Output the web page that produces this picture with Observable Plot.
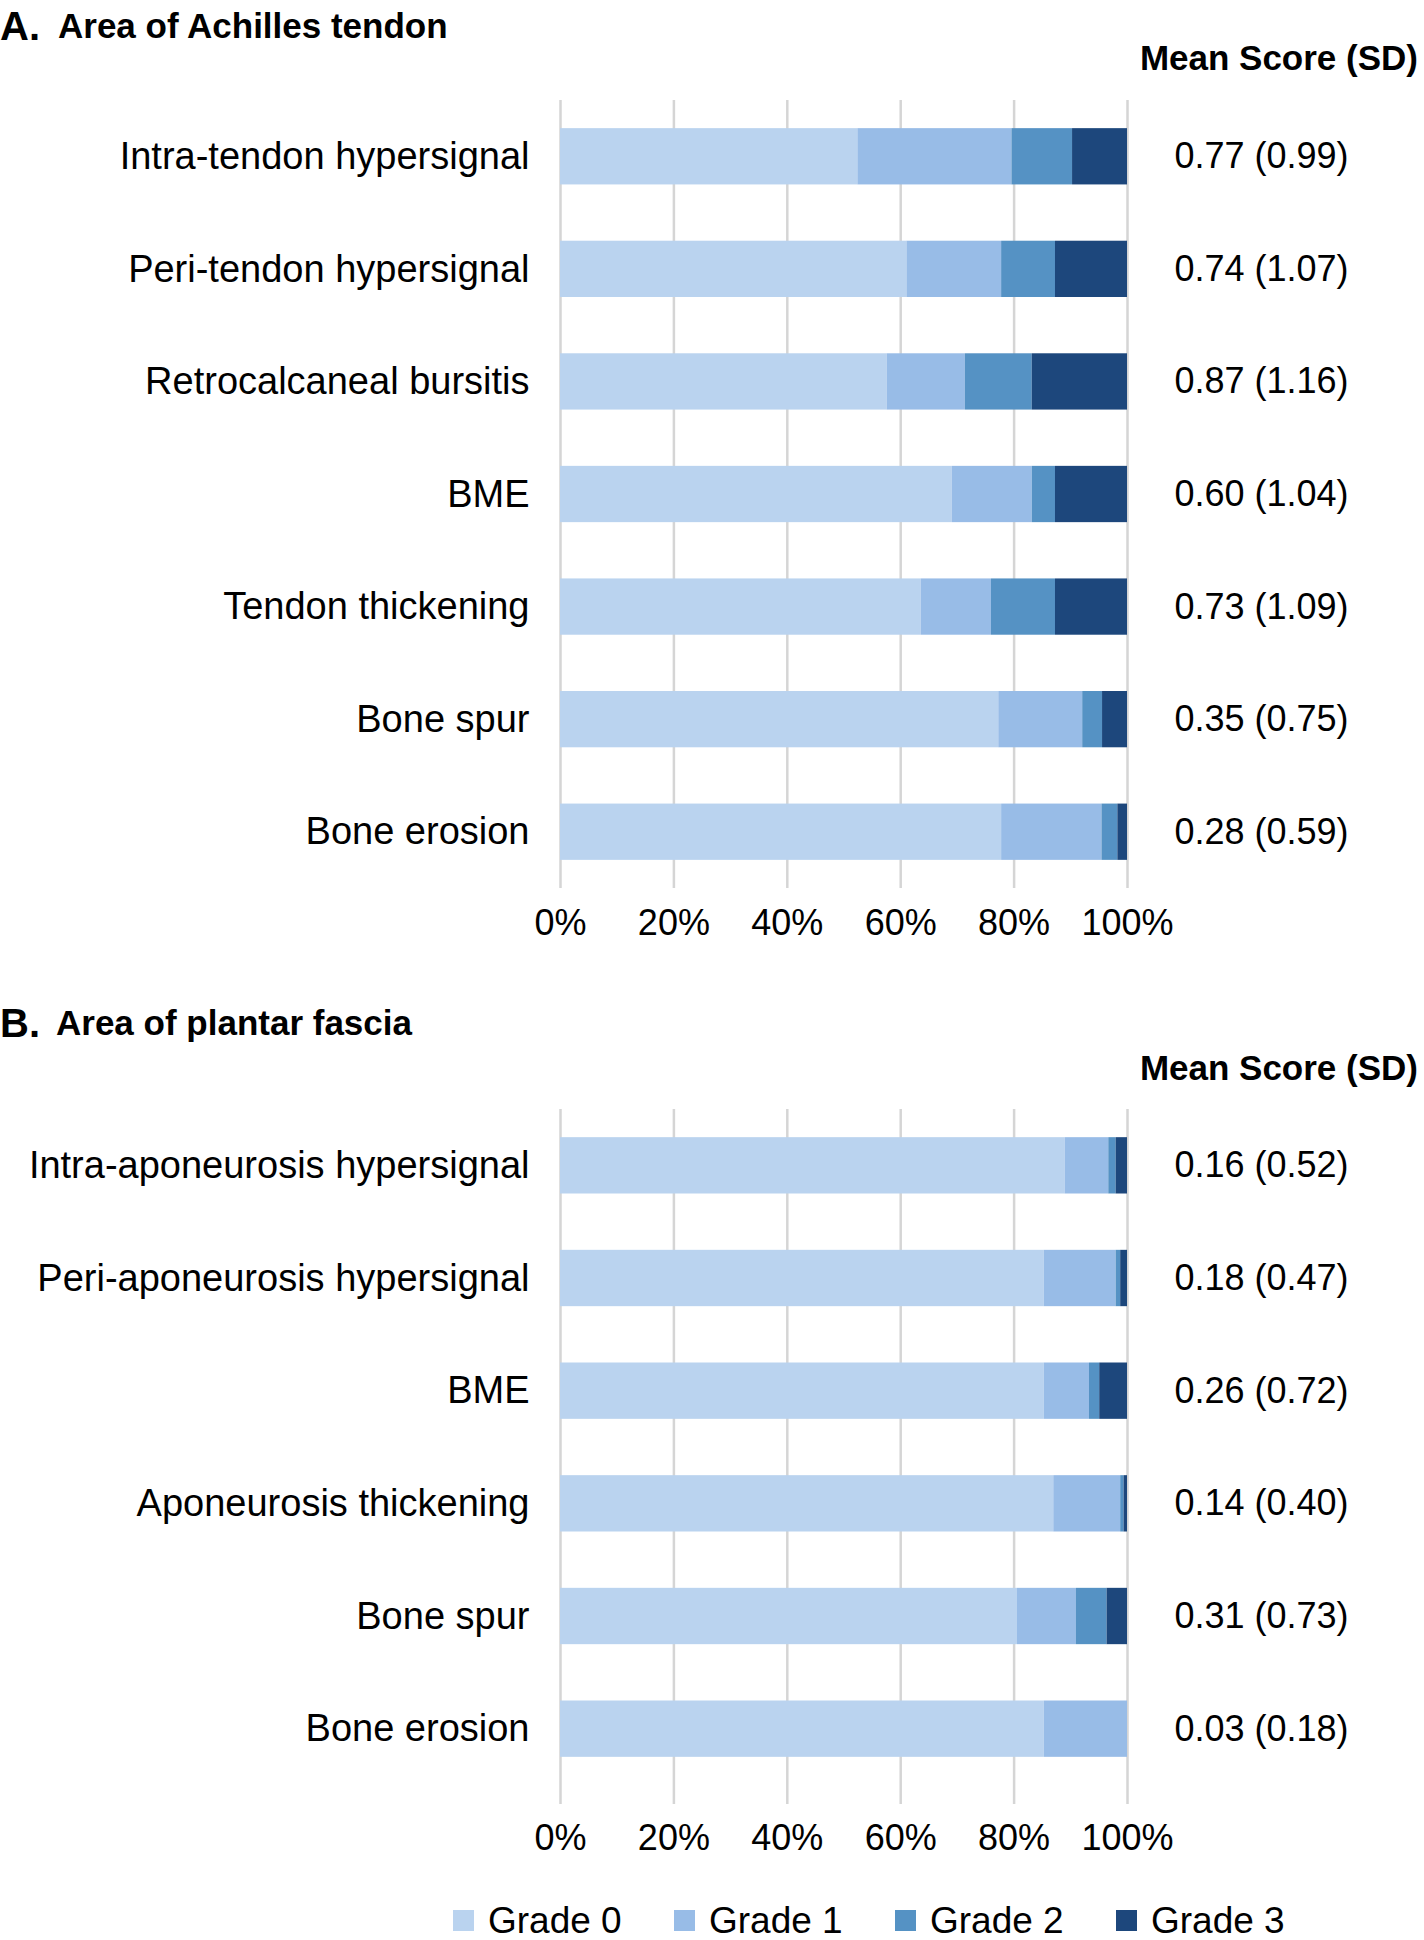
<!DOCTYPE html>
<html>
<head>
<meta charset="utf-8">
<script src="https://cdn.jsdelivr.net/npm/d3@7"></script>
<script src="https://cdn.jsdelivr.net/npm/@observablehq/plot@0.6"></script>
<style>
  html, body { margin: 0; padding: 0; background: #fff; }
  #root { position: relative; width: 1424px; height: 1940px; overflow: hidden; background: #fff;
          font-family: "Liberation Sans", Arial, Helvetica, sans-serif; color: #000; }
  .abs { position: absolute; white-space: nowrap; }
  .letter { font-size: 40px; font-weight: bold; line-height: 1; }
  .title { font-size: 35px; font-weight: bold; line-height: 1; }
  .header { font-size: 35px; font-weight: bold; line-height: 40px; right: 6px; }
  .legend { display: flex; align-items: center; height: 33px; }
  .legend-item { display: flex; align-items: center; width: 221px; font-size: 37px; line-height: 33px; height: 33px; }
  .legend-item .sw { width: 21px; height: 21px; margin-right: 14px; flex: none; }
  .legend-item .lt { display: inline-block; height: 33px; line-height: 33px; overflow: visible; }
</style>
</head>
<body>
<div id="root"></div>
<script>
// ---------- data ----------
const grades = ["Grade 0", "Grade 1", "Grade 2", "Grade 3"];
const gradeColors = ["#bad3ef", "#98bce7", "#5592c4", "#1d477c"];
const xTicks = [0, 0.2, 0.4, 0.6, 0.8, 1];

// Panel A: Area of Achilles tendon (percent of patients per grade)
const itemsA = ["Intra-tendon hypersignal", "Peri-tendon hypersignal", "Retrocalcaneal bursitis", "BME", "Tendon thickening", "Bone spur", "Bone erosion"];
const grade0A = [52.5, 61.1, 57.6, 69.1, 63.6, 77.3, 77.8];
const grade1A = [27.2, 16.7, 13.8, 14.1, 12.4, 14.8, 17.7];
const grade2A = [10.7, 9.5, 11.8, 4.1, 11.3, 3.5, 2.8];
const grade3A = [9.7, 12.7, 16.8, 12.7, 12.7, 4.4, 1.7];
const meanA = [0.77, 0.74, 0.87, 0.60, 0.73, 0.35, 0.28];
const sdA = [0.99, 1.07, 1.16, 1.04, 1.09, 0.75, 0.59];

// Panel B: Area of plantar fascia
const itemsB = ["Intra-aponeurosis hypersignal", "Peri-aponeurosis hypersignal", "BME", "Aponeurosis thickening", "Bone spur", "Bone erosion"];
const grade0B = [89.0, 85.3, 85.3, 87.0, 80.6, 85.3];
const grade1B = [7.7, 12.7, 8.0, 11.8, 10.4, 14.7];
const grade2B = [1.3, 0.8, 1.8, 0.6, 5.4, 0];
const grade3B = [2.0, 1.2, 4.9, 0.6, 3.6, 0];
const meanB = [0.16, 0.18, 0.26, 0.14, 0.31, 0.03];
const sdB = [0.52, 0.47, 0.72, 0.40, 0.73, 0.18];

// ---------- helpers ----------
function buildRows(items, series) {
  const rows = [];
  items.forEach((item, i) => {
    series.forEach((s, g) => rows.push({item, grade: grades[g], value: s[i]}));
  });
  return rows;
}
function buildMeans(items, mean, sd) {
  return items.map((item, i) => ({item, label: `${mean[i].toFixed(2)} (${sd[i].toFixed(2)})`}));
}

const FONT = '"Liberation Sans", Arial, Helvetica, sans-serif';

function panel(items, rows, means, opts) {
  return Plot.plot({
    width: 1424,
    height: opts.height,
    marginTop: opts.marginTop,
    marginBottom: opts.marginBottom,
    marginLeft: 560,
    marginRight: 297,
    x: {domain: [0, 1]},
    y: {domain: items, paddingInner: 0.5, paddingOuter: 0.25, round: false, insetBottom: opts.insetBottom || 0},
    color: {domain: grades, range: gradeColors},
    style: {fontFamily: FONT, fontSize: "36px", color: "#000", background: "transparent", overflow: "visible"},
    marks: [
      Plot.gridX({ticks: xTicks, stroke: "#d5d5d5", strokeOpacity: 1, strokeWidth: 2.5}),
      Plot.barX(rows, Plot.stackX({x: "value", y: "item", fill: "grade", offset: "normalize"})),
      Plot.axisX({ticks: xTicks, tickFormat: d3.format(".0%"), tickSize: 0, tickPadding: opts.xPad, fontSize: 36, label: null}),
      Plot.axisY({tickSize: 0, tickPadding: 31, fontSize: 38, label: null}),
      Plot.text(means, {y: "item", text: "label", frameAnchor: "right", dx: 134, textAnchor: "middle", fontSize: 36, fill: "#000"})
    ]
  });
}

const root = document.getElementById("root");
function addDiv(cls, text, style) {
  const d = document.createElement("div");
  d.className = "abs " + cls;
  d.textContent = text;
  Object.assign(d.style, style);
  root.appendChild(d);
  return d;
}

// ---------- Panel A ----------
addDiv("letter", "A.", {left: "0px", top: "6px"});
addDiv("title", "Area of Achilles tendon", {left: "58px", top: "8px"});
addDiv("header", "Mean Score (SD)", {top: "38px"});
const plotA = panel(itemsA, buildRows(itemsA, [grade0A, grade1A, grade2A, grade3A]), buildMeans(itemsA, meanA, sdA),
  {height: 881, marginTop: 33, marginBottom: 60, xPad: 21});
const wrapA = document.createElement("div");
wrapA.className = "abs"; wrapA.style.left = "0px"; wrapA.style.top = "67px";
wrapA.appendChild(plotA); root.appendChild(wrapA);

// ---------- Panel B ----------
addDiv("letter", "B.", {left: "0px", top: "1003px"});
addDiv("title", "Area of plantar fascia", {left: "56px", top: "1005px"});
addDiv("header", "Mean Score (SD)", {top: "1048px"});
const plotB = panel(itemsB, buildRows(itemsB, [grade0B, grade1B, grade2B, grade3B]), buildMeans(itemsB, meanB, sdB),
  {height: 785, marginTop: 30, marginBottom: 60, insetBottom: 19, xPad: 20});
const wrapB = document.createElement("div");
wrapB.className = "abs"; wrapB.style.left = "0px"; wrapB.style.top = "1079px";
wrapB.appendChild(plotB); root.appendChild(wrapB);

// ---------- Legend ----------
const legend = document.createElement("div");
legend.className = "abs legend";
legend.style.left = "453px";
legend.style.top = "1904px";
grades.forEach((g, i) => {
  const item = document.createElement("div");
  item.className = "legend-item";
  const sw = document.createElement("div");
  sw.className = "sw";
  sw.style.background = gradeColors[i];
  const t = document.createElement("span");
  t.className = "lt";
  t.textContent = g;
  item.appendChild(sw); item.appendChild(t);
  legend.appendChild(item);
});
root.appendChild(legend);
</script>
</body>
</html>
